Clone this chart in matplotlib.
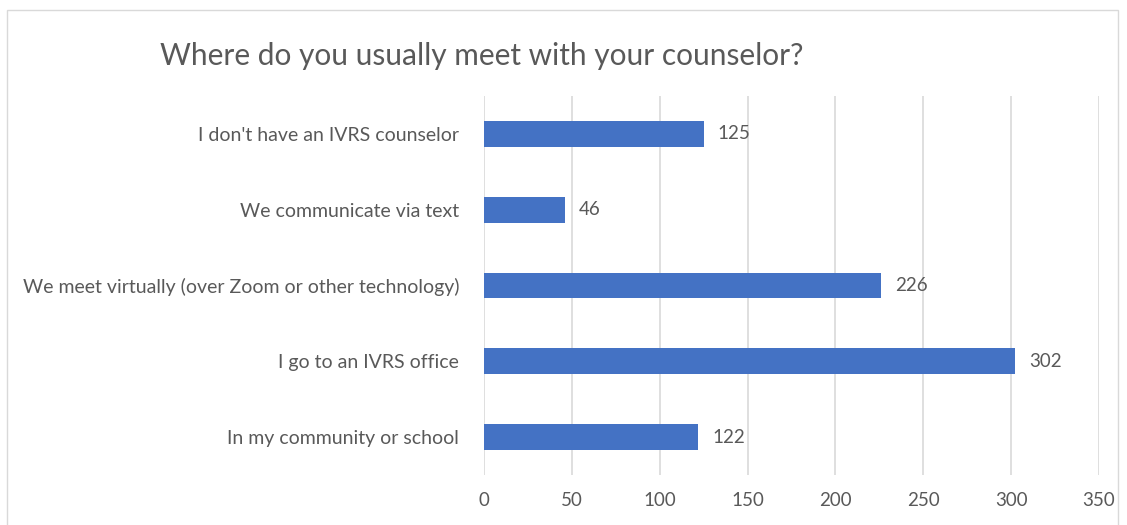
import matplotlib.pyplot as plt
from matplotlib.patches import Rectangle

# survey answers, bottom to top as drawn
categories = [
    "In my community or school",
    "I go to an IVRS office",
    "We meet virtually (over Zoom or other technology)",
    "We communicate via text",
    "I don't have an IVRS counselor",
]
counts = [122, 302, 226, 46, 125]
x_ticks = [0, 50, 100, 150, 200, 250, 300, 350]

text_color = "#595959"
bar_color = "#4472C4"
grid_color = "#D9D9D9"

plt.rcParams['font.family'] = ['Lato', 'DejaVu Sans']

fig = plt.figure(figsize=(11.27, 5.25), dpi=100)
ax = fig.add_axes([0.4295, 0.0952, 0.5457, 0.7219])

ypos = list(range(len(categories)))
ax.barh(ypos, counts, height=0.34, color=bar_color, zorder=3)

for y, v in zip(ypos, counts):
    ax.text(v + 8, y, str(v), va='center', ha='left', fontsize=13.5, color=text_color)

ax.set_xlim(0, 350)
ax.set_ylim(-0.5, len(categories) - 0.5)
ax.set_xticks(x_ticks)
ax.set_xticklabels([str(t) for t in x_ticks], fontsize=13.5, color=text_color)
ax.set_yticks(ypos)
ax.set_yticklabels(categories, fontsize=14, color=text_color)
ax.tick_params(axis='both', length=0)
ax.tick_params(axis='y', pad=18)
ax.tick_params(axis='x', pad=12)

ax.grid(axis='x', color=grid_color, linewidth=1.2, zorder=0)
for s in ax.spines.values():
    s.set_visible(False)

fig.text(160 / 1127, 1 - 56 / 525, "Where do you usually meet with your counselor?",
         fontsize=21.5, color=text_color, ha='left', va='center')

# thin chart-area border
fig.patches.append(Rectangle((7 / 1127, -0.01), 1111 / 1127, 1 - 10 / 525 + 0.01,
                             transform=fig.transFigure, fill=False,
                             edgecolor="#D9D9D9", linewidth=1))

fig.savefig("out.png", dpi=100)
